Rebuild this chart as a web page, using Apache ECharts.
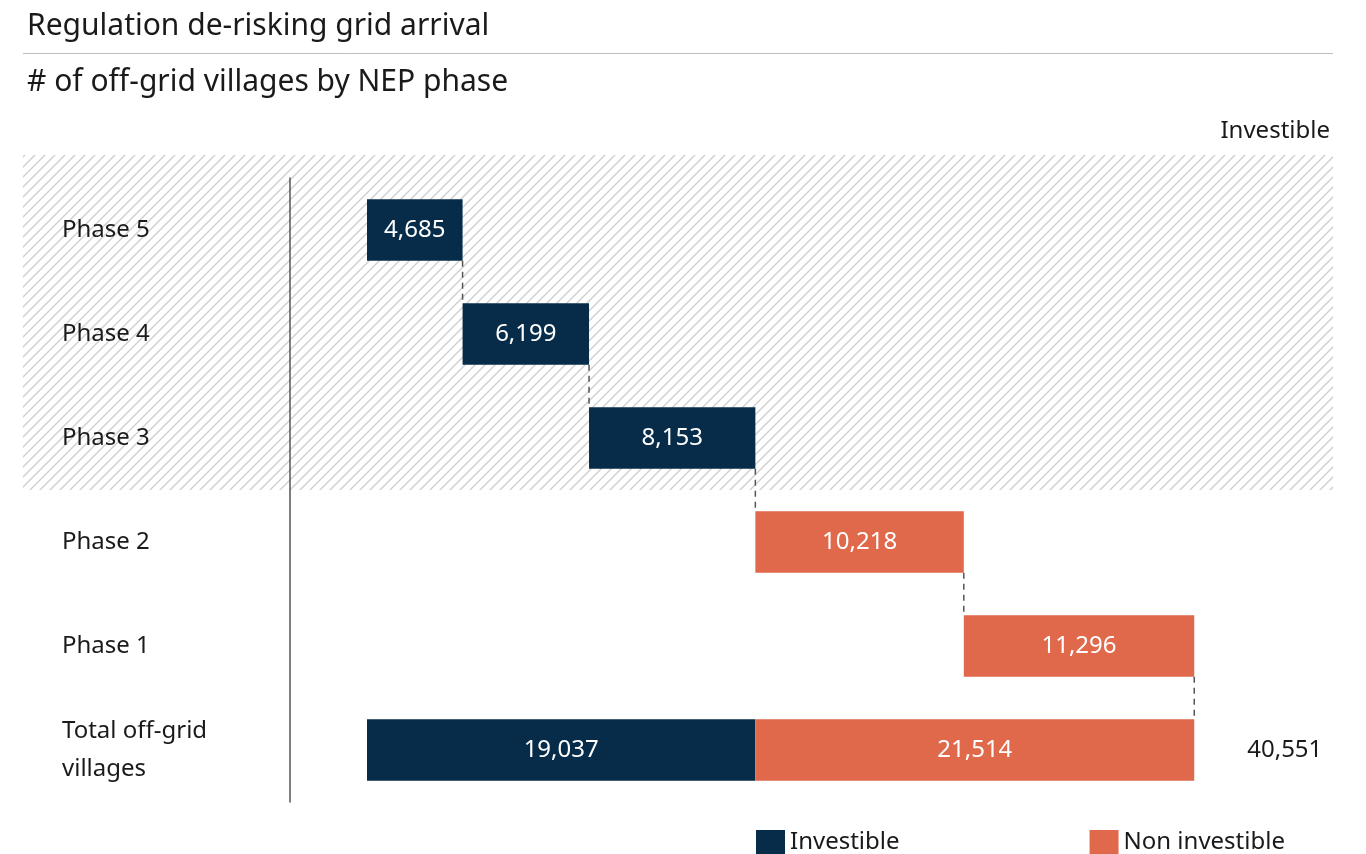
<!DOCTYPE html>
<html><head><meta charset="utf-8">
<script src="https://cdn.jsdelivr.net/npm/echarts@6/dist/echarts.min.js"></script>
<style>html,body{margin:0;padding:0;background:#fff}#c{width:1366px;height:854px}</style>
</head><body><div id="c"></div>
<script>
// ---- data ----
const categories = ['Phase 5', 'Phase 4', 'Phase 3', 'Phase 2', 'Phase 1', 'Total off-grid villages'];
const investible = [4685, 6199, 8153, null, null, 19037];
const nonInvestible = [null, null, null, 10218, 11296, 21514];
const totalValue = 40551;
const titleText = 'Regulation de-risking grid arrival';
const subtitleText = '# of off-grid villages by NEP phase';
const zoneText = 'Investible';

// ---- derived ----
const FONT = 'Noto Sans, sans-serif';
const NAVY = '#062c49', ORANGE = '#e0694b';
const nPhases = 5;
const phaseVals = categories.map((c, i) => investible[i] != null && i < nPhases ? investible[i] : nonInvestible[i]);
const base = [];
for (let i = 0; i < categories.length; i++) {
  if (i === 0 || i >= nPhases) base.push(0);
  else base.push(base[i - 1] + phaseVals[i - 1]);
}
const connectors = [];
for (let i = 0; i < nPhases; i++) connectors.push([base[i] + phaseVals[i], i]);
const BAR_RATIO = 0.59;
const fmt = v => Number(v).toLocaleString('en-US');

// hatch pattern
const pc = document.createElement('canvas');
pc.width = 10; pc.height = 10;
const g = pc.getContext('2d');
g.strokeStyle = '#cfcfcf'; g.lineWidth = 1.4;
g.beginPath();
g.moveTo(0, 10); g.lineTo(10, 0);
g.moveTo(-5, 5); g.lineTo(5, -5);
g.moveTo(5, 15); g.lineTo(15, 5);
g.stroke();

const chart = echarts.init(document.getElementById('c'), null, {renderer: 'canvas'});
const FS = 24;
const labelStyle = {show: true, color: '#fff', fontSize: FS, fontFamily: FONT, formatter: p => fmt(p.value)};
chart.setOption({
  backgroundColor: '#fff',
  animation: false,
  textStyle: {fontFamily: FONT},
  title: [
    {text: titleText, left: 22, top: 6, textStyle: {fontSize: 30, fontWeight: 'normal', color: '#1a1a1a', fontFamily: FONT}},
    {text: subtitleText, left: 22, top: 62, textStyle: {fontSize: 30, fontWeight: 'normal', color: '#1a1a1a', fontFamily: FONT}},
    {text: zoneText, right: 31, top: 114, textStyle: {fontSize: FS, fontWeight: 'normal', color: '#1a1a1a', fontFamily: FONT}}
  ],
  legend: {
    data: ['Investible', 'Non investible'],
    left: 756, top: 830, padding: 0, itemWidth: 29, itemHeight: 25, itemGap: 190,
    icon: 'rect',
    textStyle: {fontSize: FS, color: '#1a1a1a', fontFamily: FONT}
  },
  grid: {left: 367, right: 81, top: 178, bottom: 52},
  xAxis: {type: 'value', min: 0, max: 45000, show: false},
  yAxis: {
    type: 'category', data: categories, inverse: true, offset: 77,
    axisLine: {show: true, onZero: false, lineStyle: {color: '#555', width: 1.5}},
    axisTick: {show: false},
    axisLabel: {align: 'left', margin: 228, fontSize: FS, color: '#1a1a1a', fontFamily: FONT,
      width: 175, overflow: 'break', lineHeight: 38}
  },
  series: [
    {name: 'base', type: 'bar', stack: 'w', data: base, barWidth: (BAR_RATIO * 100) + '%',
      itemStyle: {color: 'transparent'}, silent: true},
    {name: 'Investible', type: 'bar', stack: 'w', data: investible, barWidth: (BAR_RATIO * 100) + '%',
      itemStyle: {color: NAVY}, label: labelStyle},
    {name: 'Non investible', type: 'bar', stack: 'w', barWidth: (BAR_RATIO * 100) + '%',
      data: nonInvestible,
      itemStyle: {color: ORANGE}, label: labelStyle},
    {name: 'total', type: 'bar', stack: 'w', barWidth: (BAR_RATIO * 100) + '%',
      data: categories.map((c, i) => i === categories.length - 1 ? 0 : null),
      itemStyle: {color: 'transparent'},
      label: {show: true, position: 'right', distance: 53, color: '#1a1a1a', fontSize: FS, fontFamily: FONT,
        formatter: () => fmt(totalValue)}},
    {name: 'connectors', type: 'custom', data: connectors, z: 1,
      renderItem: (params, api) => {
        const x = api.value(0), i = api.value(1);
        const p1 = api.coord([x, i]);
        const p2 = api.coord([x, i + 1]);
        const h = api.size([0, 1])[1] * BAR_RATIO / 2;
        return {type: 'line', shape: {x1: p1[0], y1: p1[1] + h, x2: p2[0], y2: p2[1] - h},
          style: {stroke: '#555', lineWidth: 1.5, lineDash: [6, 5]}};
      }}
  ]
});

// background hatch zone and divider, placed from the category axis
const yTop = chart.convertToPixel({yAxisIndex: 0}, categories[0]);
const y3 = chart.convertToPixel({yAxisIndex: 0}, categories[2]);
const y2 = chart.convertToPixel({yAxisIndex: 0}, categories[3]);
const band = y2 - y3;
chart.setOption({
  graphic: [
    {type: 'rect', z: -1, silent: true,
      shape: {x: 23, y: yTop - band / 2 - 23, width: 1310, height: (y3 + y2) / 2 - (yTop - band / 2 - 23)},
      style: {fill: {image: pc, repeat: 'repeat'}}},
    {type: 'line', silent: true, shape: {x1: 23, y1: 53.5, x2: 1333, y2: 53.5},
      style: {stroke: '#bdbdbd', lineWidth: 1}}
  ]
});
</script></body></html>
